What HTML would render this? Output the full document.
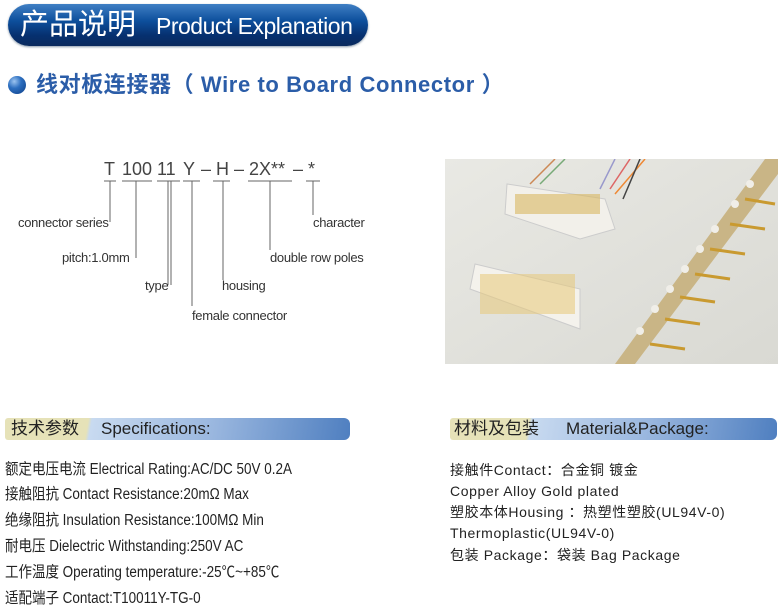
<!DOCTYPE html>
<html><head><meta charset="utf-8"><style>
body{margin:0;width:780px;height:605px;background:#fff;position:relative;overflow:hidden;font-family:"Liberation Sans","Noto Sans CJK SC",sans-serif;}
.a{position:absolute;white-space:nowrap;}
.pill{left:8px;top:4px;width:360px;height:42px;border-radius:21px;background:linear-gradient(#3f7fc4 0%,#0d4f9c 40%,#06306f 75%,#0a2a5e 100%);box-shadow:0 1px 2px #8899aa;}
.pill .c{position:absolute;left:12px;top:0px;line-height:42px;color:#fff;font-size:29px;}
.pill .e{position:absolute;left:148px;top:0px;line-height:44px;color:#fff;font-size:23px;letter-spacing:-0.5px;}
.ball{left:8px;top:76px;width:18px;height:18px;border-radius:50%;background:radial-gradient(circle at 35% 30%,#9cc4f0 0%,#2d6fc0 40%,#0b3c85 100%);}
.h2{left:36px;top:70px;line-height:30px;color:#2b5da8;font-size:22px;font-weight:bold;letter-spacing:0.6px;}
.bar{height:22px;top:418px;border-radius:3px 6px 6px 3px;background:linear-gradient(100deg,#e6e2b8 0,#e6e2b8 24%,#c8daf0 25%,#9ab7df 60%,#4f7fc0 100%);}
.bar span{position:absolute;top:0;line-height:22px;font-size:17px;color:#222;}
.t{font-size:15.5px;line-height:18px;color:#222;transform-origin:0 0;transform:scaleX(0.87);}
.r{font-size:14px;line-height:17px;color:#222;letter-spacing:0.6px;}
.lab{font-size:13px;color:#333;letter-spacing:-0.3px;}
.top{font-size:18px;color:#444;top:159px;}
</style></head><body>
<div class="a pill"><span class="c">产品说明</span><span class="e">Product Explanation</span></div>
<div class="a ball"></div>
<div class="a h2">线对板连接器（ Wire to Board Connector ）</div>

<svg class="a" style="left:0;top:150px" width="440" height="200">
<g stroke="#666" stroke-width="1" fill="none">
<line x1="104" y1="31" x2="116" y2="31"/><line x1="122" y1="31" x2="152" y2="31"/>
<line x1="157" y1="31" x2="180" y2="31"/><line x1="183" y1="31" x2="200" y2="31"/>
<line x1="213" y1="31" x2="230" y2="31"/><line x1="248" y1="31" x2="292" y2="31"/>
<line x1="306" y1="31" x2="320" y2="31"/>
<line x1="110" y1="31" x2="110" y2="72"/>
<line x1="136" y1="31" x2="136" y2="108"/>
<line x1="168" y1="31" x2="168" y2="135"/><line x1="171" y1="31" x2="171" y2="135"/>
<line x1="192" y1="31" x2="192" y2="156"/>
<line x1="223" y1="31" x2="223" y2="130"/>
<line x1="270" y1="31" x2="270" y2="100"/>
<line x1="313" y1="31" x2="313" y2="65"/>
</g></svg>
<div class="a top" style="left:104px">T</div>
<div class="a top" style="left:122px">100</div>
<div class="a top" style="left:157px">11</div>
<div class="a top" style="left:183px">Y</div>
<div class="a top" style="left:201px">–</div>
<div class="a top" style="left:216px">H</div>
<div class="a top" style="left:234px">–</div>
<div class="a top" style="left:249px">2X**</div>
<div class="a top" style="left:293px">–</div>
<div class="a top" style="left:308px">*</div>
<div class="a lab" style="left:18px;top:215px">connector series</div>
<div class="a lab" style="left:62px;top:250px">pitch:1.0mm</div>
<div class="a lab" style="left:145px;top:278px">type</div>
<div class="a lab" style="left:222px;top:278px">housing</div>
<div class="a lab" style="left:192px;top:308px">female connector</div>
<div class="a lab" style="left:270px;top:250px">double row poles</div>
<div class="a lab" style="left:313px;top:215px">character</div>

<svg class="a" style="left:445px;top:159px" width="333" height="205">
<defs><linearGradient id="bg" x1="0" y1="0" x2="1" y2="1"><stop offset="0" stop-color="#e9e9e4"/><stop offset="1" stop-color="#d9d9d3"/></linearGradient></defs>
<rect width="333" height="205" fill="url(#bg)"/>
<g stroke-width="1.5" fill="none"><path d="M85 25 L110 0" stroke="#c85"/><path d="M95 25 L120 0" stroke="#7a7"/><path d="M155 30 L170 0" stroke="#99c"/><path d="M165 30 L185 0" stroke="#d66"/><path d="M170 35 L200 0" stroke="#e83"/><path d="M178 40 L195 0" stroke="#444"/></g>
<polygon points="62,25 160,40 170,70 135,80 60,55" fill="#f2f0ea" stroke="#ccc"/>
<rect x="70" y="35" width="85" height="20" fill="#d8b860" opacity="0.6"/>
<polygon points="30,105 135,130 135,170 25,130" fill="#f4f2ec" stroke="#ccc"/>
<rect x="35" y="115" width="95" height="40" fill="#e8c878" opacity="0.55"/>
<polygon points="170,205 320,0 333,0 333,15 190,205" fill="#c9b586"/>
<g fill="#f0eee8"><circle cx="240" cy="110" r="4"/><circle cx="225" cy="130" r="4"/><circle cx="210" cy="150" r="4"/><circle cx="255" cy="90" r="4"/><circle cx="270" cy="70" r="4"/><circle cx="290" cy="45" r="4"/><circle cx="305" cy="25" r="4"/><circle cx="195" cy="172" r="4"/></g>
<g stroke="#c99a30" stroke-width="3"><path d="M300 40 L330 45"/><path d="M285 65 L320 70"/><path d="M265 90 L300 95"/><path d="M250 115 L285 120"/><path d="M235 138 L270 143"/><path d="M220 160 L255 165"/><path d="M205 185 L240 190"/></g>
</svg>

<div class="a bar" style="left:5px;width:345px"><span style="left:6px">技术参数</span><span style="left:96px">Specifications:</span></div>
<div class="a bar" style="left:450px;width:327px"><span style="left:4px">材料及包装</span><span style="left:116px">Material&amp;Package:</span></div>

<div class="a t" style="left:5px;top:461px">额定电压电流 Electrical Rating:AC/DC 50V 0.2A</div>
<div class="a t" style="left:5px;top:486px">接触阻抗 Contact Resistance:20mΩ Max</div>
<div class="a t" style="left:5px;top:512px">绝缘阻抗 Insulation Resistance:100MΩ Min</div>
<div class="a t" style="left:5px;top:538px">耐电压 Dielectric Withstanding:250V AC</div>
<div class="a t" style="left:5px;top:564px">工作温度 Operating temperature:-25℃~+85℃</div>
<div class="a t" style="left:5px;top:590px">适配端子 Contact:T10011Y-TG-0</div>

<div class="a r" style="left:450px;top:462px">接触件Contact：合金铜 镀金</div>
<div class="a r" style="left:450px;top:483px">Copper Alloy Gold plated</div>
<div class="a r" style="left:450px;top:504px">塑胶本体Housing ：热塑性塑胶(UL94V-0)</div>
<div class="a r" style="left:450px;top:525px">Thermoplastic(UL94V-0)</div>
<div class="a r" style="left:450px;top:547px">包装 Package：袋装 Bag Package</div>
</body></html>
